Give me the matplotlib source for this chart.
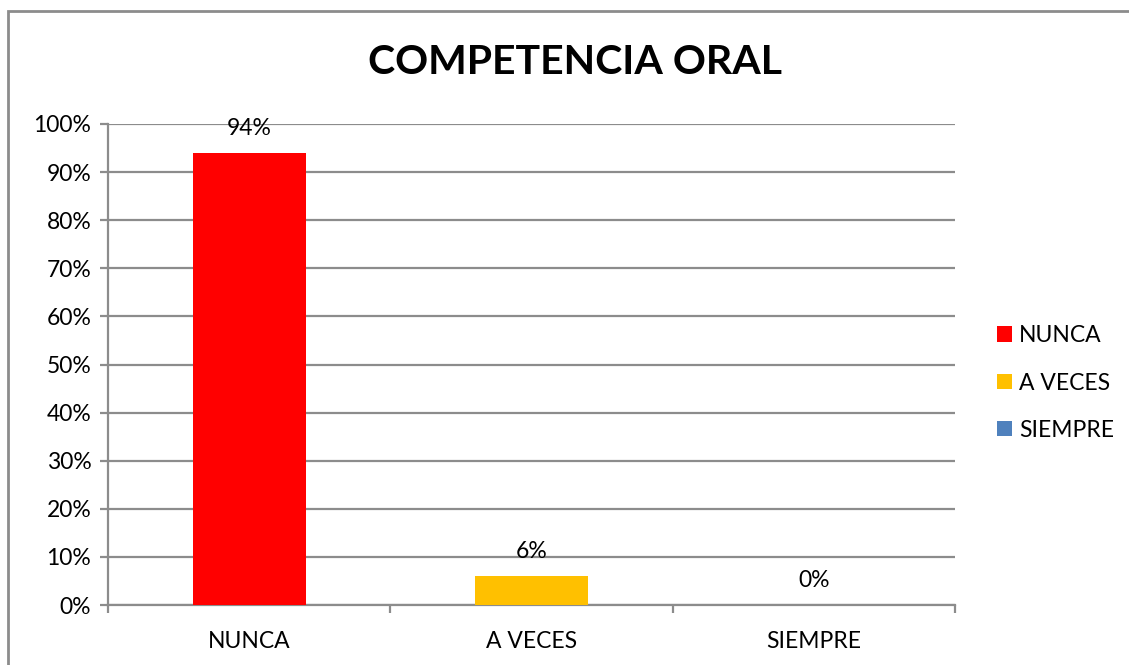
import matplotlib
matplotlib.use("Agg")
import matplotlib.pyplot as plt
from matplotlib.patches import Patch, Rectangle
from matplotlib.ticker import PercentFormatter
from matplotlib import rc

rc('font', family=['Lato', 'DejaVu Sans'])

categories = ['NUNCA', 'A VECES', 'SIEMPRE']
values = [94, 6, 0]
colors = ['#ff0000', '#ffc000', '#4f81bd']
yticks = list(range(0, 101, 10))

GRID = '#8c8c8c'
FS = 16.5


def main():
    W, H = 1129, 665
    fig = plt.figure(figsize=(W / 100, H / 100), dpi=100)
    ax = fig.add_axes([108 / W, (H - 605) / H, (955 - 108) / W, (605 - 124) / H])

    # outer chart frame (runs off the right and bottom of the image)
    fig.patches.append(Rectangle((8 / W, -0.05), 1.2, (H - 11) / H + 0.05,
                                 transform=fig.transFigure, fill=False,
                                 edgecolor=GRID, linewidth=2))

    x = list(range(len(categories)))
    ax.bar(x, values, width=0.4, color=colors, zorder=3)
    for xi, v in zip(x, values):
        ax.annotate(f'{v}%', (xi, v), xytext=(0, 10), textcoords='offset points',
                    ha='center', va='bottom', fontsize=FS, zorder=4)

    ax.set_xlim(-0.5, len(categories) - 0.5)
    ax.set_ylim(0, 100)
    ax.set_yticks(yticks)
    ax.yaxis.set_major_formatter(PercentFormatter(decimals=0))
    ax.grid(axis='y', color=GRID, linewidth=1.6, zorder=0)

    ax.set_xticks(x)
    ax.set_xticklabels(categories)
    ax.set_xticks([i - 0.5 for i in range(len(categories) + 1)], minor=True)
    ax.tick_params(axis='x', which='major', length=0, pad=19, labelsize=FS)
    ax.tick_params(axis='x', which='minor', length=6, width=1.6, color=GRID)
    ax.tick_params(axis='y', length=6, width=1.6, color=GRID, pad=6, labelsize=FS)

    for side in ['top', 'right']:
        ax.spines[side].set_visible(False)
    for side in ['left', 'bottom']:
        ax.spines[side].set_color(GRID)
        ax.spines[side].set_linewidth(1.6)

    handles = [Patch(facecolor=c, edgecolor='none') for c in colors]
    fig.legend(handles, categories, loc='center left',
               bbox_to_anchor=(997 / W, (H - 383) / H), frameon=False,
               fontsize=FS, handlelength=0.65, handleheight=0.65,
               handletextpad=0.3, labelspacing=1.15, borderaxespad=0,
               borderpad=0)

    fig.text(575 / W, (H - 62) / H, 'COMPETENCIA ORAL', ha='center', va='center',
             fontsize=29.5, fontweight='bold')

    fig.savefig('out.png', dpi=100)


if __name__ == "__main__":
    main()
